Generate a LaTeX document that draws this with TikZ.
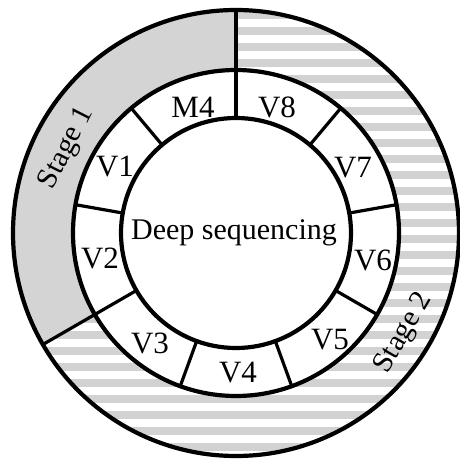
\documentclass[tikz,border=0pt]{standalone}
\usepackage{fontspec}
\setmainfont{Liberation Serif}
\usetikzlibrary{calc}
\definecolor{stagegray}{RGB}{212,212,212}
\definecolor{stripegray}{RGB}{210,210,210}
\tikzset{
  ringline/.style={line width=4.2pt},
  divline/.style={line width=3.2pt},
  lbl/.style={font=\fontsize{31}{31}\selectfont, inner sep=0pt, anchor=center},
  biglbl/.style={font=\fontsize{30}{30}\selectfont, inner sep=0pt, anchor=center},
  stagelbl/.style={font=\fontsize{29.5}{29.5}\selectfont, inner sep=0pt, anchor=center},
}
\begin{document}
\begin{tikzpicture}[x=1pt,y=1pt]
\useasboundingbox (0,0) rectangle (460,464);
\fill[white] (0,0) rectangle (460,464);
\coordinate (c) at (236,231);
% Stage 1 gray sector
\fill[stagegray] ($(c)+(90:223)$) arc[start angle=90,end angle=210,radius=223]
  -- ($(c)+(210:163)$) arc[start angle=210,end angle=90,radius=163] -- cycle;
% Stage 2 striped sector
\begin{scope}
\clip ($(c)+(90:223)$) arc[start angle=90,end angle=-150,radius=223]
  -- ($(c)+(-150:163)$) arc[start angle=-150,end angle=90,radius=163] -- cycle;
\foreach \k in {-5,...,26} \fill[stripegray] (0,{381-16*\k}) rectangle (460,{389-16*\k});
\end{scope}
% circles
\draw[ringline] (c) circle[radius=223];
\draw[ringline] (c) circle[radius=163];
\draw[ringline] (c) circle[radius=115];
% segment dividers
\foreach \a in {90,50,10,-30,-70,-110,-150,170,130}
  \draw[divline] ($(c)+(\a:115)$) -- ($(c)+(\a:163)$);
% stage dividers
\foreach \a in {90,210}
  \draw[divline] ($(c)+(\a:163)$) -- ($(c)+(\a:223)$);
% labels
\node[biglbl] (deep) at (234,231) {Deep sequencing};
\node[lbl] (m4) at (193,357) {M4};
\node[lbl] (v8) at (277,357) {V8};
\node[lbl] (v7) at (353,296) {V7};
\node[lbl] (v6) at (373,204) {V6};
\node[lbl] (v5) at (330,124) {V5};
\node[lbl] (v4) at (238,91) {V4};
\node[lbl] (v3) at (150,121) {V3};
\node[lbl] (v2) at (100,206) {V2};
\node[lbl] (v1) at (115,297) {V1};
\node[stagelbl, rotate=63] (s1) at (67,316) {Stage 1};
\node[stagelbl, rotate=60] (s2) at (404,131) {Stage 2};
\end{tikzpicture}
\end{document}
